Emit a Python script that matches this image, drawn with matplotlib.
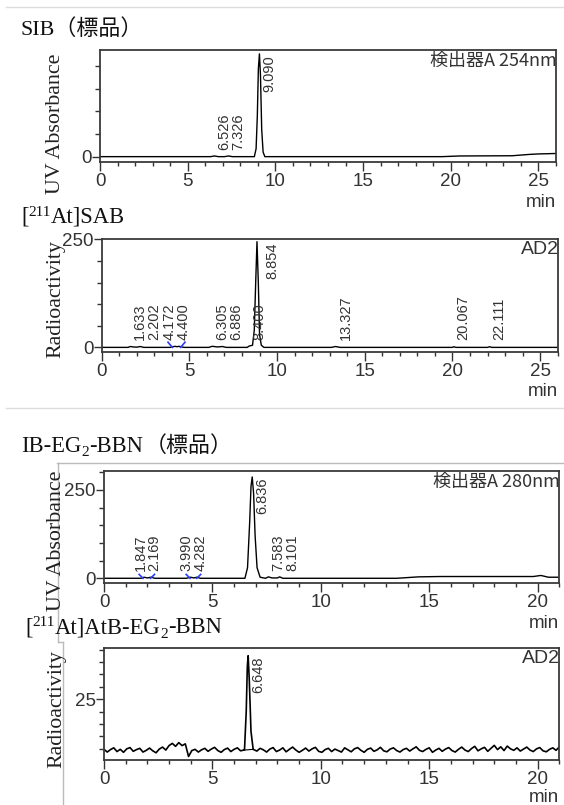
import numpy as np
import matplotlib as mpl
mpl.use('Agg')
import matplotlib.pyplot as plt
from matplotlib.lines import Line2D
from matplotlib.ticker import FixedLocator, MultipleLocator

W, H = 564, 805

NARROW = ['Liberation Sans Narrow', 'Liberation Sans', 'DejaVu Sans']
SERIF = ['Liberation Serif', 'Noto Sans CJK JP']
CJK = ['Noto Sans CJK JP', 'DejaVu Sans']

plt.rcParams['font.family'] = NARROW

# ----------------------------------------------------------------------
# --- chromatogram traces (time / min, signal)

# SIB standard, UV 254 nm
sib_t = [0, 6.30, 6.526, 6.75, 7.10, 7.326, 7.55, 8.80, 8.90, 8.97, 9.03, 9.09,
         9.15, 9.22, 9.30, 9.40, 15.0, 19.5, 20.5, 23.5, 24.5, 25.0, 26.0]
sib_v = [0, 0, 0.03, 0, 0, 0.03, 0, 0, 0.35, 1.8, 3.9, 4.55,
         3.6, 1.2, 0.2, 0, 0, 0, 0.03, 0.04, 0.10, 0.12, 0.14]
sib_peaks = [6.526, 7.326, 9.090]

# [211At]SAB, radio detector
sab_t = [0, 1.50, 1.633, 1.80, 2.00, 2.202, 2.40, 3.90, 4.172, 4.30, 4.40, 4.70,
         6.10, 6.305, 6.60, 6.886, 7.10, 8.30, 8.40, 8.60, 8.70, 8.78, 8.854,
         8.93, 9.00, 9.10, 9.25, 13.1, 13.327, 13.6, 20.0, 20.067, 20.2,
         22.0, 22.111, 22.25, 26.0]
sab_v = [0, 0, 2, 1, 0.5, 2, 0, 0, 2.5, 1.5, 2.5, 0,
         0, 2.5, 1, 2, 0, 0, 3, 5, 40, 150, 245,
         150, 30, 5, 0, 0, 2, 0, 0, 1.5, 0,
         0, 1.5, 0, 0]
sab_peaks = [1.633, 2.202, 4.172, 4.400, 6.305, 6.886, 8.400, 8.854,
             13.327, 20.067, 22.111]
sab_marks = [(4.03, 4.50)]

# IB-EG2-BBN standard, UV 280 nm
bbn_t = [0, 1.70, 1.847, 2.00, 2.169, 2.35, 3.80, 3.99, 4.15, 4.282, 4.45,
         6.50, 6.62, 6.72, 6.78, 6.836, 6.90, 6.97, 7.06, 7.20, 7.45, 7.583,
         7.75, 8.00, 8.101, 8.25, 13.5, 14.5, 15.5, 19.8, 20.15, 20.5, 21.0]
bbn_v = [0, 0, 3, 1, 3, 0, 0, 3, 1, 3, 0,
         0, 30, 160, 260, 287, 240, 120, 30, 3, 0, 4,
         1, 1, 4, 0, 0, 4, 5, 5, 8, 3, 3]
bbn_peaks = [1.847, 2.169, 3.990, 4.282, 6.836, 7.583, 8.101]
bbn_marks = [(1.80, 2.15), (3.97, 4.28)]

# [211At]AtB-EG2-BBN, radio detector: baseline sampled every 0.15 min + the peak
atb_base = [4.8, 3.7, 4.7, 5.4, 3.9, 4.8, 3.6, 5.0, 5.5, 4.0, 4.7, 5.2, 3.7, 4.4, 5.3, 4.2, 3.4, 4.9, 5.7, 4.5,
            6.3, 7.2, 6.0, 7.5, 6.3, 7.0, 1.9, 4.3,
            4.8, 3.7, 4.6, 5.2, 4.0, 4.9, 5.6, 4.3, 3.6, 4.7, 5.3, 3.9, 4.8, 5.4, 4.2,
            4.5, 4.6, 4.4, 4.7,
            4.1, 5.2, 4.6, 3.7, 4.9, 5.5, 3.9, 4.5, 5.4, 3.8, 4.8, 5.7, 4.5, 3.6, 4.4, 5.3, 4.1, 5.0, 5.6, 4.0,
            3.6, 4.7, 5.2, 3.9, 4.9, 4.3, 3.7, 5.4, 4.6, 3.8, 5.0, 5.5, 4.4, 3.6, 4.8, 5.3, 4.0, 4.6, 5.6, 4.2,
            3.8, 4.9, 5.4, 4.3, 3.7, 4.7, 5.2, 4.1, 5.0, 5.8, 4.4, 3.9, 4.8, 5.4, 3.6, 4.5, 5.2, 4.0, 4.9, 5.5,
            4.3, 3.7, 4.8, 5.7, 4.5, 3.9, 5.1, 6.0, 4.2, 5.0, 5.6, 4.0, 5.2, 6.4, 4.7, 5.8, 4.3, 6.1, 5.0, 4.4,
            5.4, 4.1, 4.9, 5.7, 4.5, 3.9, 5.0, 5.5, 4.2, 3.8, 4.8, 5.4, 4.4, 5.8]
atb_step = 0.15
atb_peak_t = [6.48, 6.56, 6.61, 6.648, 6.70, 6.78, 6.88]
atb_peak_v = [4.5, 20.0, 38.0, 42.5, 33.0, 12.0, 4.8]
atb_peaks = [6.648]


fig = plt.figure(figsize=(W / 100, H / 100), dpi=100)
fig.patch.set_facecolor('white')


def px_axes(l, r, t, b):
    return fig.add_axes([l / W, 1 - b / H, (r - l) / W, (b - t) / H])


def setup(ax, xmax, ylim, ymajor, yminor, ylabels, min_off=-40):
    ax.set_xlim(0, xmax)
    ax.set_ylim(*ylim)
    ax.xaxis.set_major_locator(MultipleLocator(5))
    ax.xaxis.set_minor_locator(MultipleLocator(1))
    ax.yaxis.set_major_locator(FixedLocator(ymajor))
    ax.yaxis.set_minor_locator(FixedLocator(yminor))
    ax.set_yticklabels(ylabels)
    ax.tick_params(which='both', direction='out', colors='#333333', labelsize=13.5, width=1.0)
    ax.tick_params(axis='x', which='major', length=6.5, pad=1.5)
    ax.tick_params(axis='x', which='minor', length=3)
    ax.tick_params(axis='y', which='major', length=6, pad=0)
    ax.tick_params(axis='y', which='minor', length=3.5)
    for s in ax.spines.values():
        s.set_color('#3a3a3a')
        s.set_linewidth(1.3)
    ax.annotate('min', (1, 0), xycoords='axes fraction', xytext=(0, min_off),
                textcoords='offset pixels', ha='right', va='center', fontsize=13.5, color='#333333')


def label_peaks(ax, t, v, peaks):
    top = ax.get_ylim()[1]
    px = ax.transData.transform(np.column_stack([peaks, np.zeros(len(peaks))]))[:, 0]
    centers = px + 10
    i = 0
    while i < len(peaks):
        j = i
        while j + 1 < len(peaks) and px[j + 1] - px[j] < 7.5:
            j += 1
        if j > i:
            n = j - i + 1
            centers[i:j + 1] = px[i:j + 1].mean() + (np.arange(n) - (n - 1) / 2) * 13.5
        i = j + 1
    # keep neighbouring labels from sitting on top of each other
    for k in range(1, len(centers)):
        centers[k] = max(centers[k], centers[k - 1] + 13.5)
    inv = ax.transData.inverted()
    for rt, c in zip(peaks, centers):
        xc = inv.transform((c, 0))[0]
        apex = np.interp(rt, t, v)
        if apex > 0.3 * top:
            ax.annotate(f'{rt:.3f}', (xc, apex), xytext=(0, -1), textcoords='offset pixels',
                        rotation=90, ha='center', va='top', fontsize=10.5, color='#333333')
        else:
            ax.annotate(f'{rt:.3f}', (xc, 0), xytext=(0, 7), textcoords='offset pixels',
                        rotation=90, ha='center', va='bottom', fontsize=10.5, color='#333333')


def blue_marks(ax, marks, dx, dy):
    for s, e in marks:
        ax.plot([s - dx, s], [dy, 0], color='#2a3cff', lw=1.2)
        ax.plot([e, e + dx], [0, dy], color='#2a3cff', lw=1.2)


def corner_text(ax, s, family, size):
    ax.annotate(s, (1, 1), xycoords='axes fraction', xytext=(1, -2), textcoords='offset pixels',
                ha='right', va='top', fontsize=size, family=family, color='#333333')


def rich(x, y, parts, size=16.3):
    r = fig.canvas.get_renderer()
    for s, kind in parts:
        fs = size * 0.68 if kind else size
        dy = {'sup': 0.3 * size, 'sub': -0.2 * size}.get(kind, 0) * 100 / 72
        txt = fig.text(x / W, 1 - (y - dy) / H, s, fontsize=fs, family=SERIF,
                       ha='left', va='baseline', color='#111111')
        x += txt.get_window_extent(r).width
    return x


def ylab(x, y, s):
    fig.text(x / W, 1 - y / H, s, rotation=90, ha='center', va='center',
             fontsize=15.8, family=SERIF, color='#222222')


def fig_line(x0, y0, x1, y1, c):
    fig.add_artist(Line2D([x0 / W, x1 / W], [1 - y0 / H, 1 - y1 / H], color=c, lw=1.0))


# --- screenshot frames
fig_line(6, 7.5, 564, 7.5, '#dddddd')
fig_line(6, 408, 564, 408, '#dddddd')
fig_line(57, 463, 564, 463, '#bbbbbb')
fig_line(57.5, 463, 57.5, 642, '#bbbbbb')
fig_line(57.5, 642, 63, 642, '#bbbbbb')
fig_line(63, 642, 63, 805, '#bbbbbb')

# --- panel 1: SIB
ax1 = px_axes(100, 556, 50, 162.3)
setup(ax1, 26, (-0.25, 4.72), [0], [1, 2, 3, 4], ['0'])
ax1.plot(sib_t, sib_v, color='black', lw=1.0)
label_peaks(ax1, sib_t, sib_v, sib_peaks)
corner_text(ax1, '検出器A 254nm', CJK, 13)
rich(21, 35, [('SIB（標品）', None)], size=15.8)
ylab(55, 123.5, 'UV Absorbance')

# --- panel 2: [211At]SAB
ax2 = px_axes(101.7, 557.7, 239.5, 351.7)
setup(ax2, 26, (-10, 250), [0, 250], [50, 100, 150, 200], ['0', '250'])
ax2.plot(sab_t, sab_v, color='black', lw=1.0)
blue_marks(ax2, sab_marks, 0.25, 12)
label_peaks(ax2, sab_t, sab_v, sab_peaks)
corner_text(ax2, 'AD2', NARROW, 14)
rich(21, 223, [('[', None), ('211', 'sup'), ('At]SAB', None)])
ylab(56, 299, 'Radioactivity')

# --- panel 3: IB-EG2-BBN
ax3 = px_axes(104, 559.3, 471, 583.3)
setup(ax3, 21, (-14.2, 303.8), [0, 250], [50, 100, 150, 200, 300], ['0', '250'])
ax3.plot(bbn_t, bbn_v, color='black', lw=1.0)
blue_marks(ax3, bbn_marks, 0.18, 11)
label_peaks(ax3, bbn_t, bbn_v, bbn_peaks)
corner_text(ax3, '検出器A 280nm', CJK, 13)
xe = rich(21, 451.5, [('IB-EG', None), ('2', 'sub'), ('-BBN', None)])
fig.text((xe + 2) / W, 1 - 451.5 / H, '（標品）', fontsize=15.8, family=SERIF,
         ha='left', va='baseline', color='#111111')
ylab(57, 541, 'UV Absorbance')

# --- panel 4: [211At]AtB-EG2-BBN
t_base = np.arange(len(atb_base)) * atb_step
keep = (t_base < atb_peak_t[0]) | (t_base > atb_peak_t[-1])
atb_t = np.concatenate([t_base[keep], atb_peak_t])
atb_v = np.concatenate([np.array(atb_base)[keep], atb_peak_v])
order = np.argsort(atb_t)
atb_t, atb_v = atb_t[order], atb_v[order]

ax4 = px_axes(104, 559.3, 648.3, 760)
setup(ax4, 21, (0.5, 45.5), [25], [5, 10, 15, 20, 30, 35, 40, 45], ['25'], min_off=-37)
ax4.plot(atb_t, atb_v, color='black', lw=1.2)
ax4.plot([atb_peak_t[0], atb_peak_t[-1]], [atb_peak_v[0], atb_peak_v[-1]], color='black', lw=0.8)
label_peaks(ax4, atb_t, atb_v, atb_peaks)
corner_text(ax4, 'AD2', NARROW, 14)
rich(25, 633, [('[', None), ('211', 'sup'), ('At]AtB-EG', None), ('2', 'sub'), ('-BBN', None)])
ylab(57, 709, 'Radioactivity')

fig.savefig('out.png', dpi=100)
